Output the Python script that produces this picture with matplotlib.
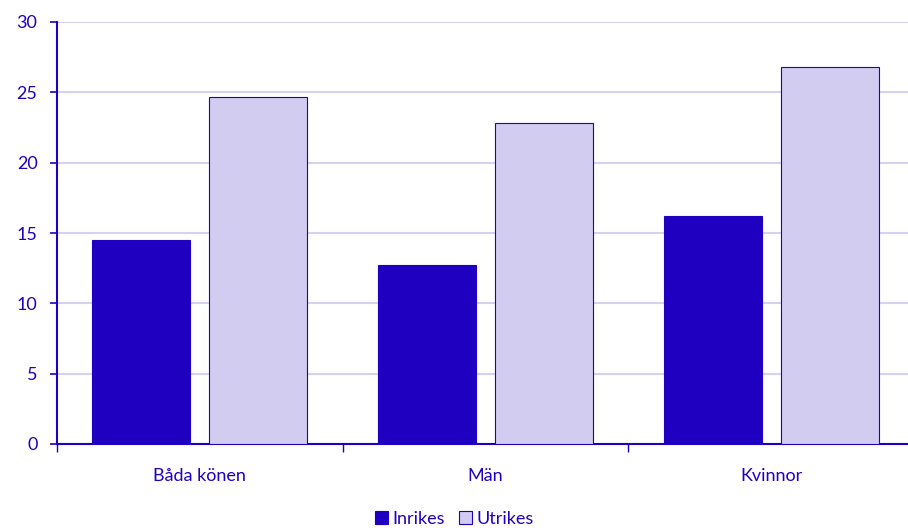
import matplotlib.pyplot as plt
import numpy as np

categories = ["Båda könen", "Män", "Kvinnor"]
inrikes = [14.5, 12.7, 16.2]
utrikes = [24.7, 22.8, 26.8]
yticks = [0, 5, 10, 15, 20, 25, 30]

dark = "#2000C0"
light = "#D2CCF0"
grid = "#D4D2F2"

plt.rcParams['font.family'] = ['Lato', 'DejaVu Sans']

fig = plt.figure(figsize=(9.08, 5.30), dpi=100)
ax = fig.add_axes([57/908, (530-444)/530, 857/908, 422/530])

x = np.arange(len(categories))
w = 0.343
ax.bar(x - 0.205, inrikes, w, color=dark, edgecolor=dark, linewidth=0.8, label="Inrikes", zorder=3)
ax.bar(x + 0.205, utrikes, w, color=light, edgecolor=dark, linewidth=0.8, label="Utrikes", zorder=3)

ax.set_xlim(-0.5, 2.5)
ax.set_ylim(0, 30)
ax.set_yticks(yticks)
ax.yaxis.grid(True, color=grid, linewidth=1.5, zorder=0)

ax.set_xticks([-0.5, 0.5, 1.5, 2.5])
ax.set_xticklabels([])
ax.set_xticks(x, minor=True)
ax.set_xticklabels(categories, minor=True)
ax.tick_params(axis='x', which='major', length=6, color=dark, width=1)
ax.tick_params(axis='x', which='minor', length=0, pad=17, labelcolor=dark, labelsize=13)
ax.tick_params(axis='y', length=5, color=dark, width=1.2, labelcolor=dark, labelsize=13, pad=9)

for s in ['top', 'right']:
    ax.spines[s].set_visible(False)
ax.spines['left'].set_color(dark)
ax.spines['left'].set_linewidth(1.5)
ax.spines['bottom'].set_color(dark)
ax.spines['bottom'].set_linewidth(1.5)

leg = fig.legend(loc='lower center', bbox_to_anchor=(0.5, -0.025), ncol=2, frameon=False,
                 fontsize=13, handlelength=0.75, handleheight=0.75, handletextpad=0.2,
                 columnspacing=0.8, labelcolor=dark)

fig.savefig("out.png", dpi=100)
